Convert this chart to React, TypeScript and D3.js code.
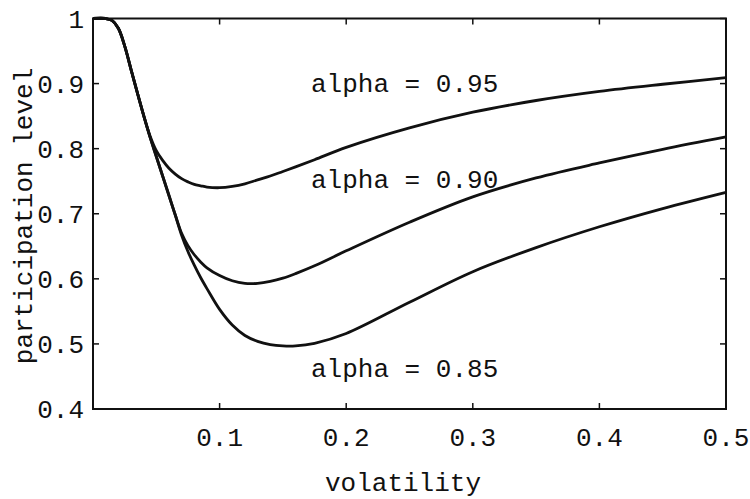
import { useRef, useEffect } from "react";
import * as d3 from "d3";

// sampled volatility grid shared by all three curves
const volatility = [
	0, 0.01, 0.015, 0.02, 0.025, 0.03, 0.035, 0.04, 0.045, 0.05, 0.055, 0.06,
	0.065, 0.07, 0.075, 0.08, 0.085, 0.09, 0.1, 0.11, 0.12, 0.13, 0.14, 0.15,
	0.16, 0.175, 0.2, 0.25, 0.3, 0.35, 0.4, 0.45, 0.5,
];

const alpha95 = [
	1, 1, 0.997, 0.985, 0.958, 0.922, 0.886, 0.851, 0.82, 0.797, 0.782, 0.77,
	0.761, 0.754, 0.749, 0.745, 0.743, 0.741, 0.74, 0.742, 0.746, 0.752, 0.758,
	0.765, 0.772, 0.783, 0.802, 0.832, 0.856, 0.874, 0.888, 0.899, 0.909,
];

const alpha90 = [
	1, 1, 0.997, 0.985, 0.958, 0.922, 0.886, 0.851, 0.818, 0.788, 0.758, 0.728,
	0.698, 0.67, 0.651, 0.637, 0.626, 0.617, 0.605, 0.597, 0.593, 0.593, 0.596,
	0.601, 0.608, 0.62, 0.643, 0.687, 0.726, 0.755, 0.778, 0.799, 0.818,
];

const alpha85 = [
	1, 1, 0.997, 0.985, 0.958, 0.922, 0.886, 0.851, 0.818, 0.788, 0.758, 0.728,
	0.698, 0.667, 0.642, 0.621, 0.602, 0.585, 0.553, 0.529, 0.513, 0.504, 0.499,
	0.497, 0.497, 0.501, 0.516, 0.564, 0.611, 0.648, 0.68, 0.708, 0.733,
];

const seriesLabels = ["alpha = 0.95", "alpha = 0.90", "alpha = 0.85"];
const xTicks = [0.1, 0.2, 0.3, 0.4, 0.5];
const yTicks = [0.4, 0.5, 0.6, 0.7, 0.8, 0.9, 1];

const App = () => {
	const svgRef = useRef<SVGSVGElement>(null);

	useEffect(() => {
		const width = 750;
		const height = 499;
		const svg = d3.select(svgRef.current);
		svg.attr("width", width).attr("height", height);
		svg.selectAll("*").remove();

		const font = "'Liberation Mono', 'Courier New', monospace";
		const fontSize = "26px";
		const ink = "#111";

		const x = d3.scaleLinear().domain([0, 0.5]).range([93, 726]);
		const y = d3.scaleLinear().domain([0.4, 1]).range([409, 18.5]);

		svg.append("rect").attr("width", width).attr("height", height).attr("fill", "#fff");

		// frame
		svg
			.append("rect")
			.attr("x", x(0))
			.attr("y", y(1))
			.attr("width", x(0.5) - x(0))
			.attr("height", y(0.4) - y(1))
			.attr("fill", "none")
			.attr("stroke", ink)
			.attr("stroke-width", 2);

		const tickLen = 6;
		const ticks = svg.append("g").attr("stroke", ink).attr("stroke-width", 1.5);
		xTicks.forEach((t) => {
			ticks.append("line").attr("x1", x(t)).attr("x2", x(t)).attr("y1", y(0.4)).attr("y2", y(0.4) - tickLen);
			ticks.append("line").attr("x1", x(t)).attr("x2", x(t)).attr("y1", y(1)).attr("y2", y(1) + tickLen);
		});
		yTicks.forEach((t) => {
			ticks.append("line").attr("x1", x(0)).attr("x2", x(0) + tickLen).attr("y1", y(t)).attr("y2", y(t));
			ticks.append("line").attr("x1", x(0.5)).attr("x2", x(0.5) - tickLen).attr("y1", y(t)).attr("y2", y(t));
		});

		// tick labels
		svg
			.append("g")
			.selectAll("text")
			.data(xTicks)
			.enter()
			.append("text")
			.attr("x", (d) => x(d))
			.attr("y", 446)
			.attr("text-anchor", "middle")
			.style("font-family", font)
			.style("font-size", fontSize)
			.attr("fill", ink)
			.text((d) => d3.format(".1f")(d));

		svg
			.append("g")
			.selectAll("text")
			.data(yTicks)
			.enter()
			.append("text")
			.attr("x", 84)
			.attr("y", (d) => y(d))
			.attr("dy", "0.35em")
			.attr("text-anchor", "end")
			.style("font-family", font)
			.style("font-size", fontSize)
			.attr("fill", ink)
			.text((d) => (d === 1 ? "1" : d3.format(".1f")(d)));

		// axis titles
		svg
			.append("text")
			.attr("x", 403)
			.attr("y", 491)
			.attr("text-anchor", "middle")
			.style("font-family", font)
			.style("font-size", fontSize)
			.attr("fill", ink)
			.text("volatility");

		svg
			.append("text")
			.attr("transform", `translate(32, 216) rotate(-90)`)
			.attr("text-anchor", "middle")
			.style("font-family", font)
			.style("font-size", fontSize)
			.attr("fill", ink)
			.text("participation level");

		// curves
		const line = d3
			.line<number>()
			.x((_, i) => x(volatility[i]))
			.y((d) => y(d))
			.curve(d3.curveCatmullRom.alpha(0.5));

		[alpha95, alpha90, alpha85].forEach((s) => {
			svg
				.append("path")
				.attr("d", line(s))
				.attr("fill", "none")
				.attr("stroke", ink)
				.attr("stroke-width", 2.8)
				.attr("stroke-linejoin", "round");
		});

		// curve labels
		const labelPos = [
			[311, 92],
			[311, 188],
			[311, 377],
		];
		seriesLabels.forEach((label, i) => {
			svg
				.append("text")
				.attr("x", labelPos[i][0])
				.attr("y", labelPos[i][1])
				.style("font-family", font)
				.style("font-size", fontSize)
				.attr("fill", ink)
				.text(label);
		});
	}, []);

	return (
		<svg
			ref={svgRef}
			style={{ position: "absolute", left: 0, top: 0, display: "block" }}
		></svg>
	);
};

export default App;
